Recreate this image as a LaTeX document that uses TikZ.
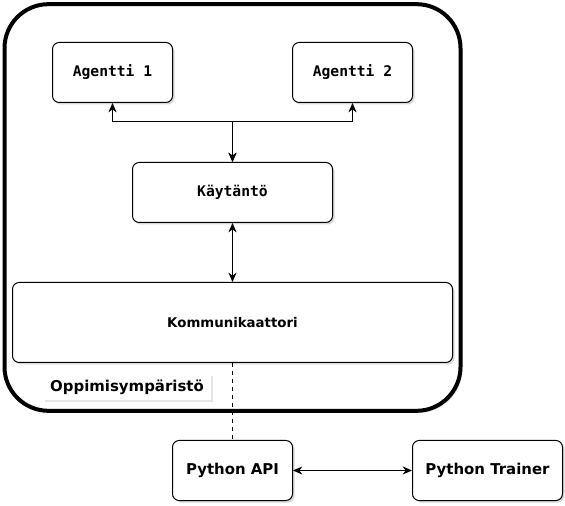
\documentclass[tikz,border=0pt]{standalone}
\usepackage{fontspec}
\setmainfont{DejaVu Sans}
\setmonofont{DejaVu Sans Mono}
\usetikzlibrary{positioning,shadows,arrows.meta}

\tikzset{
  box/.style={draw, rounded corners=5pt, fill=white, line width=0.75pt,
    minimum width=90pt, minimum height=45pt, inner sep=0pt,
    drop shadow={shadow xshift=1.5pt, shadow yshift=-1.5pt, fill=black!30}},
  monobox/.style={box, font=\ttfamily\bfseries\fontsize{11}{13}\selectfont},
  boldbox/.style={box, font=\bfseries\fontsize{11.2}{13}\selectfont},
  link/.style={<->, line width=0.75pt},
}

\begin{document}
\begin{tikzpicture}[x=0.75pt, y=-0.75pt, >={Stealth[length=7pt,width=6pt]}, node distance=180pt]
  \useasboundingbox (0,0) rectangle (565,506);

  % oppimisympariston kehys
  \node (ymparisto) [draw, rounded corners=33pt, line width=3pt, fill=white,
    minimum width=342pt, minimum height=305pt,
    drop shadow={shadow xshift=1.5pt, shadow yshift=-1.5pt, fill=black!25}]
    at (232.5,207.5) {};

  \node (agentti1) [monobox] at (112.5,72.5) {Agentti 1};
  \node (agentti2) [monobox, right of=agentti1] {Agentti 2};
  \node (kaytanto) [monobox, minimum width=150pt] at (232.5,192.5) {Käytäntö};
  \node (kommunikaattori) [box, minimum width=330pt, minimum height=60pt,
    font=\bfseries\fontsize{10}{12}\selectfont] at (232.5,322.5) {Kommunikaattori};
  \node (otsikko) [fill=white, minimum width=126pt, minimum height=20pt, inner sep=0pt,
    font=\bfseries\fontsize{11.2}{13}\selectfont,
    drop shadow={shadow xshift=1.5pt, shadow yshift=-1.5pt, fill=black!20}]
    at (127,387) {Oppimisympäristö};
  \node (pyapi) [boldbox] at (232.5,470.5) {Python API};
  \node (trainer) [boldbox, minimum width=112.5pt] at (487.5,470.5) {Python Trainer};

  \coordinate (haara) at (232.5,122);

  \draw [link] (kaytanto) -- (haara) -| (agentti1);
  \draw [link] (kaytanto) -- (haara) -| (agentti2);
  \draw [link] (kaytanto) -- (kommunikaattori);
  \draw [dashed, line width=0.75pt] (kommunikaattori) -- (pyapi);
  \draw [link] (pyapi) -- (trainer);
\end{tikzpicture}
\end{document}
